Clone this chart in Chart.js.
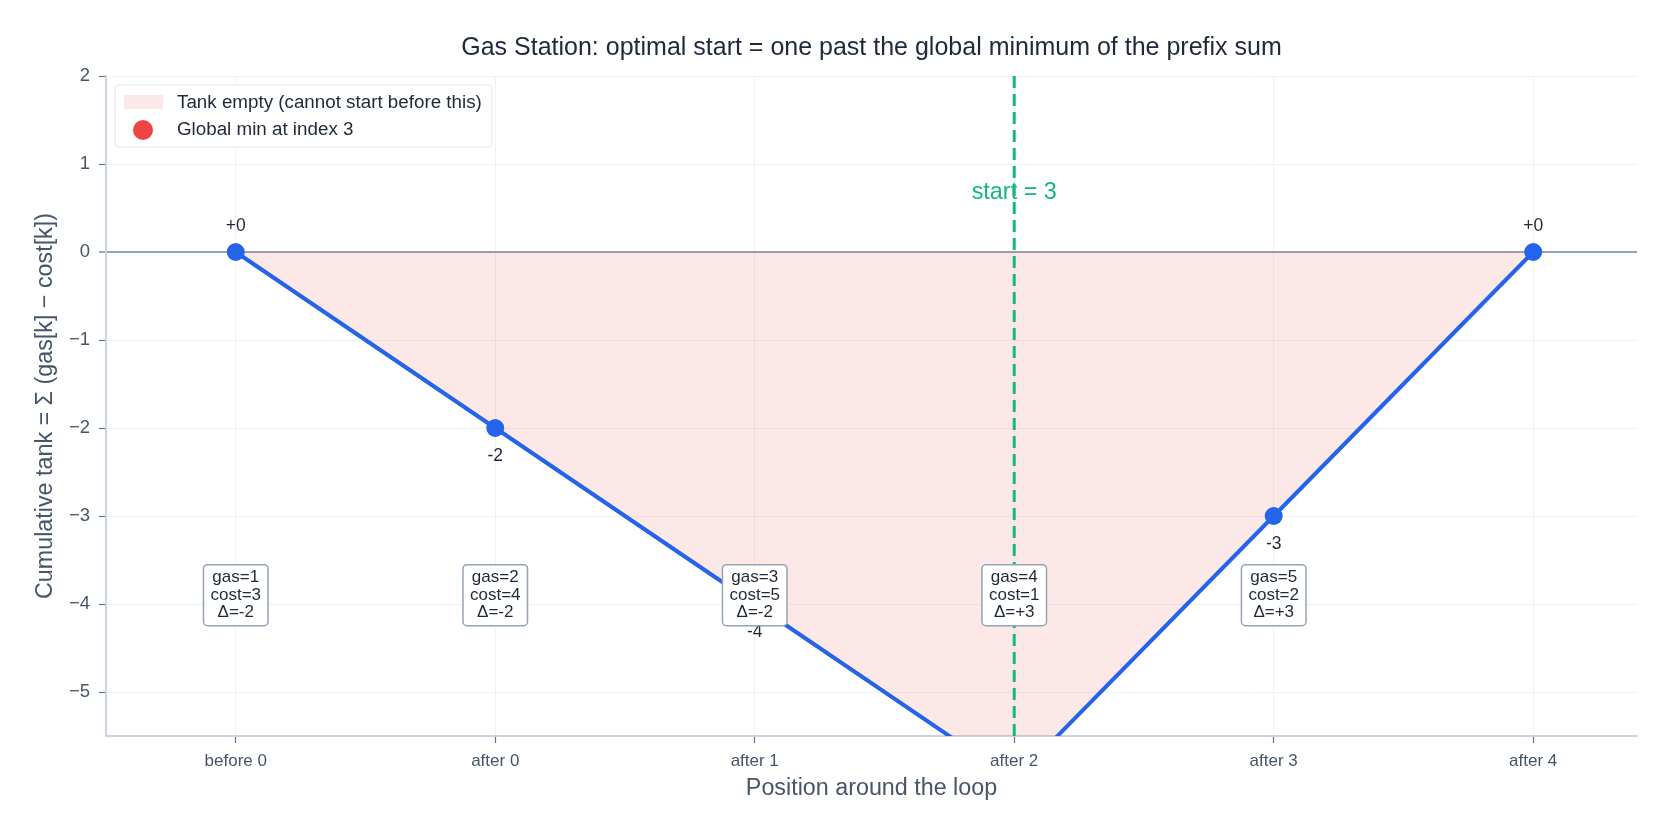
<!DOCTYPE html>
<html><head><meta charset="utf-8">
<script src="https://cdn.jsdelivr.net/npm/chart.js@4.4.1/dist/chart.umd.min.js"></script>
<style>html,body{margin:0;padding:0;background:#fff;}#wrap{width:1674px;height:833px;}</style>
</head><body><div id="wrap"><canvas id="c" style="width:1674px;height:833px"></canvas></div>
<script>
const positions = ['before 0', 'after 0', 'after 1', 'after 2', 'after 3', 'after 4'];
const prefixSum = [0, -2, -4, -6, -3, 0];
const gas = [1, 2, 3, 4, 5];
const cost = [3, 4, 5, 1, 2];
const delta = [-2, -2, -2, 3, 3];
const globalMinIndex = 3;
const globalMinValue = -6;
const startIndex = 3;
const yTicks = [-5, -4, -3, -2, -1, 0, 1, 2];

const FONT = '"Liberation Sans", Arial, Helvetica, sans-serif';
const BLUE = '#2563eb', GREEN = '#10b981', RED = '#ef4444';
const FILL = 'rgba(239,68,68,0.12)';

const overlay = {
  id: 'overlay',
  afterDatasetsDraw(chart) {
    const {ctx, chartArea: a, scales: {x, y}} = chart;
    ctx.save();
    const sx = x.getPixelForValue(startIndex);
    ctx.beginPath();
    ctx.rect(a.left, a.top, a.right - a.left, a.bottom - a.top);
    ctx.clip();
    ctx.strokeStyle = GREEN; ctx.lineWidth = 3; ctx.setLineDash([12, 6]);
    ctx.beginPath(); ctx.moveTo(sx, a.top); ctx.lineTo(sx, a.bottom); ctx.stroke();
    ctx.setLineDash([]);
    ctx.font = '23.4px ' + FONT; ctx.fillStyle = GREEN;
    ctx.textAlign = 'center'; ctx.textBaseline = 'middle';
    ctx.fillText('start = ' + startIndex, sx, y.getPixelForValue(0.67));
    // point labels
    ctx.font = '17.5px ' + FONT; ctx.fillStyle = '#1f2937';
    prefixSum.forEach((v, i) => {
      const px = x.getPixelForValue(i), py = y.getPixelForValue(v);
      if (v >= 0) ctx.fillText('+' + v, px, py - 26);
      else ctx.fillText(String(v), px, py + 28);
    });
    // station boxes
    ctx.font = '17px ' + FONT;
    const by = y.getPixelForValue(-3.9);
    gas.forEach((g, i) => {
      const px = x.getPixelForValue(i);
      const d = delta[i];
      const lines = ['gas=' + g, 'cost=' + cost[i], '\u0394=' + (d >= 0 ? '+' + d : d)];
      const w = Math.max(...lines.map(l => ctx.measureText(l).width)) + 14;
      const h = 61;
      ctx.beginPath();
      ctx.roundRect(px - w / 2, by - h / 2, w, h, 4);
      ctx.fillStyle = '#ffffff'; ctx.fill();
      ctx.strokeStyle = '#94a3b8'; ctx.lineWidth = 1.5; ctx.stroke();
      ctx.fillStyle = '#1f2937';
      lines.forEach((l, k) => ctx.fillText(l, px, by + (k - 1) * 17.5));
    });
    ctx.restore();
    // legend
    ctx.save();
    ctx.beginPath();
    ctx.roundRect(115, 85, 377, 62, 4);
    ctx.fillStyle = 'rgba(255,255,255,0.9)'; ctx.fill();
    ctx.strokeStyle = '#e2e8f0'; ctx.lineWidth = 1.2; ctx.stroke();
    ctx.fillStyle = FILL; ctx.fillRect(124, 95, 39, 14);
    ctx.beginPath(); ctx.arc(143, 130, 10, 0, Math.PI * 2); ctx.fillStyle = RED; ctx.fill();
    ctx.font = '18.8px ' + FONT; ctx.fillStyle = '#1f2937';
    ctx.textAlign = 'left'; ctx.textBaseline = 'middle';
    ctx.fillText('Tank empty (cannot start before this)', 177, 103);
    ctx.fillText('Global min at index ' + globalMinIndex, 177, 130);
    ctx.restore();
  }
};

new Chart(document.getElementById('c'), {
  type: 'line',
  data: {
    datasets: [
      {
        label: 'Tank empty (cannot start before this)',
        data: prefixSum.map((v, i) => ({x: i, y: v})),
        borderColor: BLUE, borderWidth: 4,
        pointRadius: 9, pointHoverRadius: 9, pointBackgroundColor: BLUE, pointBorderWidth: 0,
        backgroundColor: FILL, fill: {value: 0}, tension: 0, clip: 0
      },
      {
        label: 'Global min at index ' + globalMinIndex,
        data: [{x: globalMinIndex, y: globalMinValue}],
        showLine: false, pointRadius: 10, pointBackgroundColor: RED, pointBorderWidth: 0,
        borderColor: RED, clip: 0
      }
    ]
  },
  options: {
    responsive: false, animation: false,
    layout: {padding: {left: 0, right: 37, top: 0, bottom: 0}},
    plugins: {
      legend: {display: false}, tooltip: {enabled: false},
      title: {
        display: true, fullSize: false,
        text: 'Gas Station: optimal start = one past the global minimum of the prefix sum',
        font: {family: FONT, size: 25, weight: 'normal'}, color: '#1e293b',
        padding: {top: 33, bottom: 13}
      }
    },
    scales: {
      x: {
        type: 'linear', min: -0.5, max: 5.4,
        afterBuildTicks: s => { s.ticks = positions.map((_, i) => ({value: i})); },
        afterFit: s => { s.height = 97; },
        ticks: {callback: v => positions[v], font: {family: FONT, size: 17}, color: '#475569', padding: 8, maxRotation: 0},
        grid: {color: '#eef2f7', lineWidth: 1, tickColor: '#64748b', tickLength: 7, tickWidth: 1.2},
        border: {display: true, color: '#cbd5e1', width: 2},
        title: {display: true, text: 'Position around the loop', font: {family: FONT, size: 23.3}, color: '#475569', padding: {top: 0, bottom: 30}}
      },
      y: {
        min: -5.5, max: 2,
        afterBuildTicks: s => { s.ticks = yTicks.map(v => ({value: v})); },
        afterFit: s => { s.width = 106; },
        ticks: {callback: v => v < 0 ? '\u2212' + Math.abs(v) : String(v), font: {family: FONT, size: 18.5}, color: '#475569', padding: 9},
        grid: {
          color: c => (c.tick && c.tick.value === 0) ? '#94a3b8' : '#eef2f7',
          lineWidth: c => (c.tick && c.tick.value === 0) ? 2 : 1,
          tickColor: '#64748b', tickLength: 7, tickWidth: 1.2
        },
        border: {display: true, color: '#cbd5e1', width: 2},
        title: {display: true, text: 'Cumulative tank = \u03a3 (gas[k] \u2212 cost[k])', font: {family: FONT, size: 23.3}, color: '#475569', padding: {top: 31.5, bottom: 0}}
      }
    }
  },
  plugins: [overlay]
});
</script></body></html>
